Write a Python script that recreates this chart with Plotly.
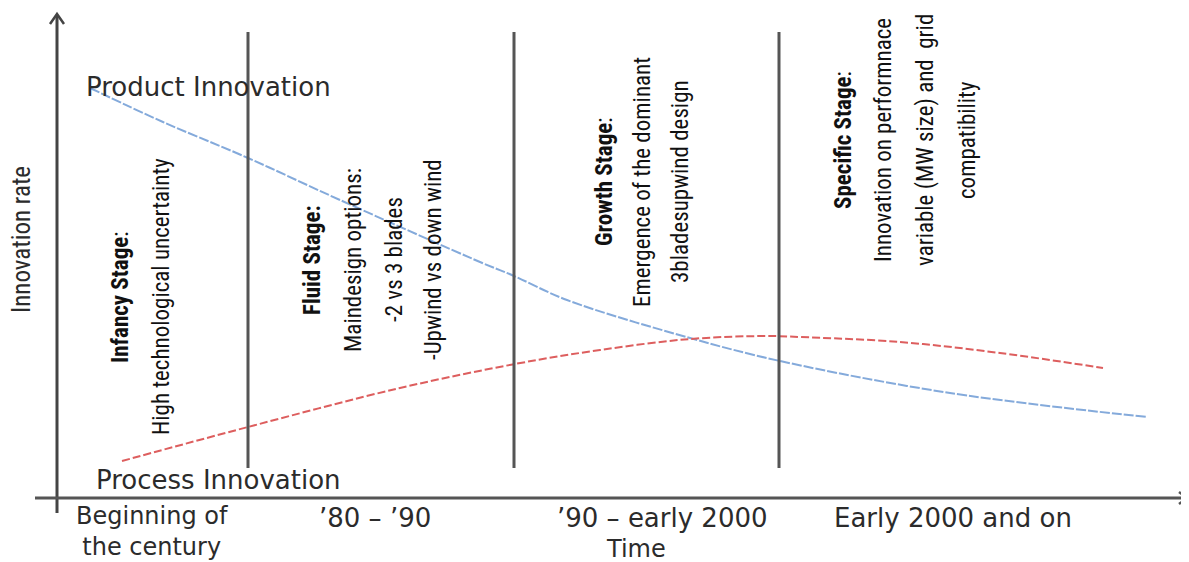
import plotly.graph_objects as go

# ---- data (time position, innovation rate) ----
product_time = [90, 163, 248, 340, 480, 514, 567, 690, 780, 950, 1147]
product_rate = [474, 440, 404, 362, 300, 286, 262, 224, 201, 169, 145]
process_time = [122, 248, 400, 515, 600, 690, 767, 800, 900, 1000, 1103]
process_rate = [101, 135, 174, 198, 212, 223, 226, 225, 220, 209, 194]

stage_bounds = [248, 514, 779]

period_labels = ["Beginning of<br>the century", "’80 – ’90", "’90 – early 2000", "Early 2000 and on"]
period_x = [152, 375, 662, 953]
period_y = [31, 44, 44, 44]
period_size = [24, 26, 26, 26]

stage_lines = [
    ["<b>Infancy Stage</b>:", "High technological uncertainty"],
    ["<b>Fluid Stage:</b>", "Maindesign options:", "-2 vs 3 blades", "-Upwind vs down wind"],
    ["<b>Growth Stage</b>:", "Emergence of the dominant", "3bladesupwind design"],
    ["<b>Specific Stage</b>:", "Innovation on performnace", "variable (MW size) and  grid", "compatibility"],
]
stage_line_x = [[120, 161], [312, 353, 394, 433], [604, 642, 680], [843, 883, 925, 967]]
stage_center_y = [265, 302, 380, 422]

W, H = 1189, 562
OFF = 8  # page body margin
AX_COL = "#444444"
TXT_COL = "#2b2b2b"
VFONT = "Liberation Sans Narrow, Arial Narrow, Roboto Condensed, DejaVu Sans Condensed, sans-serif"
HFONT = "DejaVu Sans, Verdana, sans-serif"

fig = go.Figure()
fig.add_trace(go.Scatter(x=product_time, y=product_rate, mode="lines", line_shape="spline",
                         line=dict(color="#84aadb", width=2, dash="10px,2px"), hoverinfo="skip"))
fig.add_trace(go.Scatter(x=process_time, y=process_rate, mode="lines", line_shape="spline",
                         line=dict(color="#dd5e5e", width=2, dash="8px,3px"), hoverinfo="skip"))

shapes = []
for b in stage_bounds:
    shapes.append(dict(type="line", x0=b, x1=b, y0=94, y1=530,
                       line=dict(color="#555555", width=3)))
shapes.append(dict(type="line", x0=57, x1=57, y0=49, y1=547, line=dict(color=AX_COL, width=3)))
shapes.append(dict(type="line", x0=35, x1=1186, y0=64, y1=64, line=dict(color="#555555", width=3)))
shapes.append(dict(type="path", path="M 50,538 L 57,548 L 64,538", line=dict(color=AX_COL, width=2.5)))
shapes.append(dict(type="path", path="M 1179,70 L 1187,64 L 1179,58", line=dict(color="#555555", width=2.5)))

annotations = []
annotations.append(dict(x=208, y=475, text="Product Innovation", showarrow=False,
                        font=dict(family=HFONT, size=26, color=TXT_COL), xanchor="center", yanchor="middle"))
annotations.append(dict(x=218, y=82, text="Process Innovation", showarrow=False,
                        font=dict(family=HFONT, size=26, color=TXT_COL), xanchor="center", yanchor="middle"))
for lab, px, py, fs in zip(period_labels, period_x, period_y, period_size):
    annotations.append(dict(x=px, y=py, text=lab, showarrow=False,
                            font=dict(family=HFONT, size=fs, color=TXT_COL), xanchor="center", yanchor="middle"))
annotations.append(dict(x=636, y=13, text="Time", showarrow=False,
                        font=dict(family=HFONT, size=24, color=TXT_COL), xanchor="center", yanchor="middle"))
annotations.append(dict(x=21, y=322, text="Innovation rate", textangle=-90, showarrow=False,
                        font=dict(family=VFONT, size=25, color=TXT_COL), xanchor="center", yanchor="middle"))
for lines, xs, cy in zip(stage_lines, stage_line_x, stage_center_y):
    for t, lx in zip(lines, xs):
        annotations.append(dict(x=lx, y=cy, text=t, textangle=-90, showarrow=False,
                                font=dict(family=VFONT, size=23, color="#111111"),
                                xanchor="center", yanchor="middle"))

for a in annotations:
    a.setdefault("xref", "x")
    a.setdefault("yref", "y")
for s in shapes:
    s.setdefault("xref", "x")
    s.setdefault("yref", "y")

fig.update_layout(
    width=W - OFF, height=H - OFF, margin=dict(l=0, r=0, t=0, b=0),
    paper_bgcolor="white", plot_bgcolor="white", showlegend=False,
    xaxis=dict(range=[OFF, W], visible=False, fixedrange=True),
    yaxis=dict(range=[0, H - OFF], visible=False, fixedrange=True),
    shapes=shapes, annotations=annotations,
)
fig.write_html("out.html", config={"displayModeBar": False})
